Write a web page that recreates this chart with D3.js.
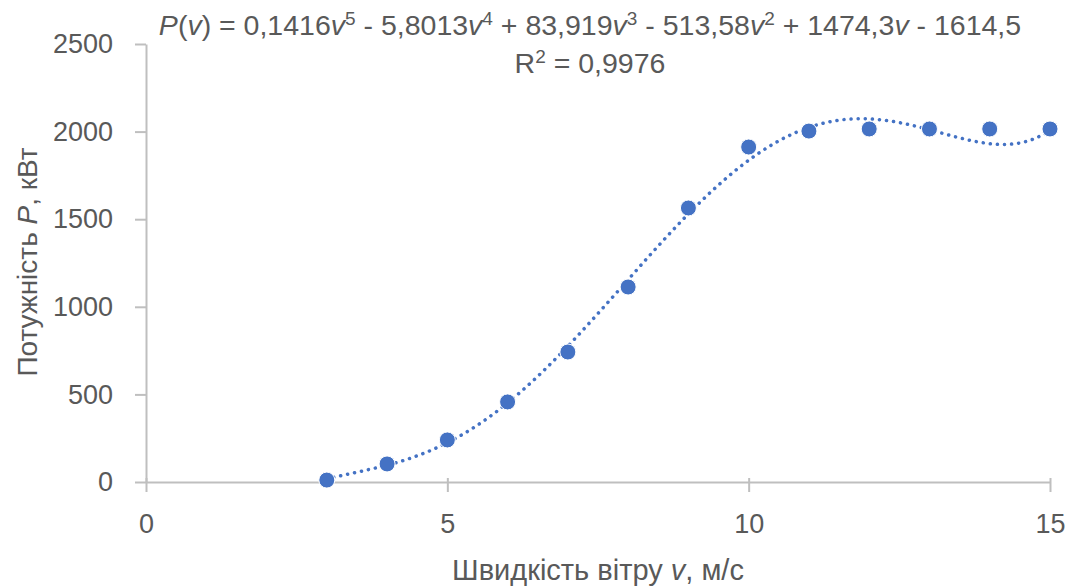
<!DOCTYPE html>
<html>
<head>
<meta charset="utf-8">
<script src="https://cdn.jsdelivr.net/npm/d3@7"></script>
<style>
  body { margin: 0; background: #fff; }
  svg { display: block; font-family: "Liberation Sans", Arial, sans-serif; }
</style>
</head>
<body>
<div id="chart"></div>
<script>
// wind speed (m/s) and power (kW)
const speeds = [3, 4, 5, 6, 7, 8, 9, 10, 11, 12, 13, 14, 15];
const powers = [11, 103, 240, 457, 742, 1113, 1564, 1912, 2003, 2015, 2015, 2015, 2015];

// trendline coefficients as printed on the chart, highest power first
const trendCoefs = [0.1416, -5.8013, 83.919, -513.58, 1474.3, -1614.5];

const xTicks = [0, 5, 10, 15];
const yTicks = [0, 500, 1000, 1500, 2000, 2500];

const width = 1076, height = 588;
const margin = { left: 146, right: 26, top: 44, bottom: 106 };

const svg = d3.select('#chart').append('svg')
    .attr('width', width)
    .attr('height', height);

const x = d3.scaleLinear().domain([0, 15]).range([margin.left, width - margin.right]);
const y = d3.scaleLinear().domain([0, 2500]).range([height - margin.bottom, margin.top]);

const axisColor = '#bfbfbf';
const textColor = '#595959';

// x axis (sits on P = 0)
const xAxis = svg.append('g')
    .attr('transform', `translate(0,${y(0)})`)
    .call(d3.axisBottom(x).tickValues(xTicks).tickFormat(d3.format('d'))
        .tickSize(10).tickSizeOuter(0).tickPadding(22));
xAxis.select('.domain').attr('stroke', axisColor).attr('stroke-width', 2);
xAxis.selectAll('.tick line').attr('stroke', axisColor).attr('stroke-width', 2).attr('y1', -4);
xAxis.selectAll('.tick text')
    .attr('fill', textColor).style('font-size', '27px');

// y axis
const yAxis = svg.append('g')
    .attr('transform', `translate(${x(0)},0)`)
    .call(d3.axisLeft(y).tickValues(yTicks).tickFormat(d3.format('d'))
        .tickSize(11).tickSizeOuter(0).tickPadding(22));
yAxis.select('.domain').attr('stroke', axisColor).attr('stroke-width', 2);
yAxis.selectAll('.tick line').attr('stroke', axisColor).attr('stroke-width', 2);
yAxis.selectAll('.tick text')
    .attr('fill', textColor).style('font-size', '27px');

// polynomial trendline, drawn over the data span
const poly = v => trendCoefs.reduce((acc, c) => acc * v + c, 0);
const trendPts = d3.range(0, 241).map(i => {
    const v = speeds[0] + (speeds[speeds.length - 1] - speeds[0]) * i / 240;
    return [v, poly(v)];
});

svg.append('path')
    .datum(trendPts)
    .attr('d', d3.line().x(d => x(d[0])).y(d => y(d[1])))
    .attr('fill', 'none')
    .attr('stroke', '#4472c4')
    .attr('stroke-width', 3.5)
    .attr('stroke-linecap', 'round')
    .attr('stroke-dasharray', '0.1 7');

// data points
svg.selectAll('.pt')
    .data(speeds.map((s, i) => [s, powers[i]]))
    .enter()
    .append('circle')
    .attr('class', 'pt')
    .attr('cx', d => x(d[0]))
    .attr('cy', d => y(d[1]))
    .attr('r', 8)
    .attr('fill', '#4472c4')
    .attr('stroke', '#ffffff')
    .attr('stroke-width', 1);

// trendline equation label
const eq = svg.append('text')
    .attr('x', 590)
    .attr('y', 35)
    .attr('text-anchor', 'middle')
    .attr('fill', textColor)
    .style('font-size', '28.5px');

const parts = [
    ['P', 'i'], ['(', ''], ['v', 'i'], [') = 0,1416', ''], ['v', 'i'], ['5', 's'],
    [' - 5,8013', ''], ['v', 'i'], ['4', 's'], [' + 83,919', ''], ['v', 'i'], ['3', 's'],
    [' - 513,58', ''], ['v', 'i'], ['2', 's'], [' + 1474,3', ''], ['v', 'i'], [' - 1614,5', '']
];
let raised = false;
parts.forEach(([t, kind]) => {
    const ts = eq.append('tspan').text(t);
    if (kind === 'i') ts.style('font-style', 'italic');
    if (kind === 's') {
        ts.style('font-size', '19px').attr('dy', -10);
        raised = true;
    } else if (raised) {
        ts.attr('dy', 10);
        raised = false;
    }
});

const r2 = svg.append('text')
    .attr('x', 590)
    .attr('y', 73)
    .attr('text-anchor', 'middle')
    .attr('fill', textColor)
    .style('font-size', '28.5px');
r2.append('tspan').text('R');
r2.append('tspan').text('2').style('font-size', '19px').attr('dy', -10);
r2.append('tspan').text(' = 0,9976').attr('dy', 10);

// axis titles
const xTitle = svg.append('text')
    .attr('x', 598)
    .attr('y', 580)
    .attr('text-anchor', 'middle')
    .attr('fill', textColor)
    .style('font-size', '29px');
xTitle.append('tspan').text('Швидкість вітру ');
xTitle.append('tspan').text('v').style('font-style', 'italic');
xTitle.append('tspan').text(', м/с');

const yTitle = svg.append('text')
    .attr('transform', 'translate(37,262) rotate(-90)')
    .attr('text-anchor', 'middle')
    .attr('fill', textColor)
    .style('font-size', '28px');
yTitle.append('tspan').text('Потужність ');
yTitle.append('tspan').text('P').style('font-style', 'italic');
yTitle.append('tspan').text(', кВт');
</script>
</body>
</html>
